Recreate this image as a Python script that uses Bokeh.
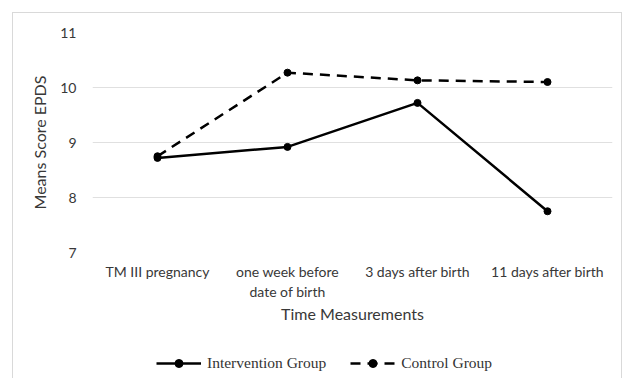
from bokeh.plotting import figure
from bokeh.layouts import column
from bokeh.models import Legend, LegendItem, Range1d, FactorRange, FixedTicker
from bokeh.embed import file_html
from bokeh.resources import INLINE

categories = ["TM III pregnancy", "one week before\ndate of birth", "3 days after birth", "11 days after birth"]
intervention = [8.72, 8.92, 9.72, 7.75]
control = [8.75, 10.27, 10.13, 10.10]
y_ticks = [7, 8, 9, 10, 11]

p = figure(width=608, height=335, output_backend="svg", toolbar_location=None,
           x_range=FactorRange(*categories, range_padding=0), y_range=Range1d(7, 11),
           min_border_left=79, min_border_right=9, min_border_top=19, min_border_bottom=96)
p.outline_line_color = None
p.xgrid.grid_line_color = None
p.ygrid.grid_line_color = "#e0e0e0"
p.ygrid.grid_line_width = 1
p.yaxis.ticker = FixedTicker(ticks=y_ticks)

for ax in (p.xaxis[0], p.yaxis[0]):
    ax.axis_line_color = None
    ax.major_tick_line_color = None
    ax.minor_tick_line_color = None
    ax.major_label_text_font = "Lato"
    ax.major_label_text_font_size = "14px"
    ax.major_label_text_color = "#383838"
    ax.axis_label_text_font = "Lato"
    ax.axis_label_text_font_style = "normal"
    ax.axis_label_text_color = "#383838"
    ax.axis_label_text_font_size = "16px"

p.xaxis.axis_label = "Time Measurements"
p.yaxis.axis_label = "Means Score EPDS"
p.yaxis.major_label_standoff = 10
p.yaxis.axis_label_standoff = 8
p.xaxis.major_label_standoff = 4
p.xaxis.axis_label_standoff = 1

p.line(categories, intervention, line_color="black", line_width=2.5)
p.scatter(categories, intervention, size=7, color="black")
p.line(categories, control, line_color="black", line_width=2.5, line_dash="10 7")
p.scatter(categories, control, size=7, color="black")

# legend strip below the chart (its own glyphs are out of view; only the legend shows)
lg = figure(width=608, height=30, output_backend="svg", toolbar_location=None,
            x_range=FactorRange(*categories, range_padding=0), y_range=Range1d(100, 101),
            min_border=0)
lg.axis.visible = False
lg.grid.visible = False
lg.outline_line_color = None
l1 = lg.line(categories, intervention, line_color="black", line_width=2.5)
s1 = lg.scatter(categories, intervention, size=7, color="black")
l2 = lg.line(categories, control, line_color="black", line_width=2.5, line_dash="10 7")
s2 = lg.scatter(categories, control, size=7, color="black")

legend = Legend(items=[LegendItem(label="Intervention Group", renderers=[l1, s1]),
                       LegendItem(label="Control Group", renderers=[l2, s2])],
                orientation="horizontal", location=(64, 5),
                label_text_font="Liberation Serif", label_text_font_size="15.5px",
                label_text_color="#333333", glyph_width=45, label_standoff=6, spacing=24,
                border_line_color=None, background_fill_alpha=0, margin=0, padding=0)
lg.add_layout(legend, "center")

layout = column(p, lg, spacing=0,
                styles={"margin-left": "12px", "margin-top": "12px",
                        "border-top": "1px solid #d9d9d9", "border-left": "1px solid #d9d9d9",
                        "border-right": "1px solid #d9d9d9"})

open("out.html", "w").write(file_html(layout, INLINE))
